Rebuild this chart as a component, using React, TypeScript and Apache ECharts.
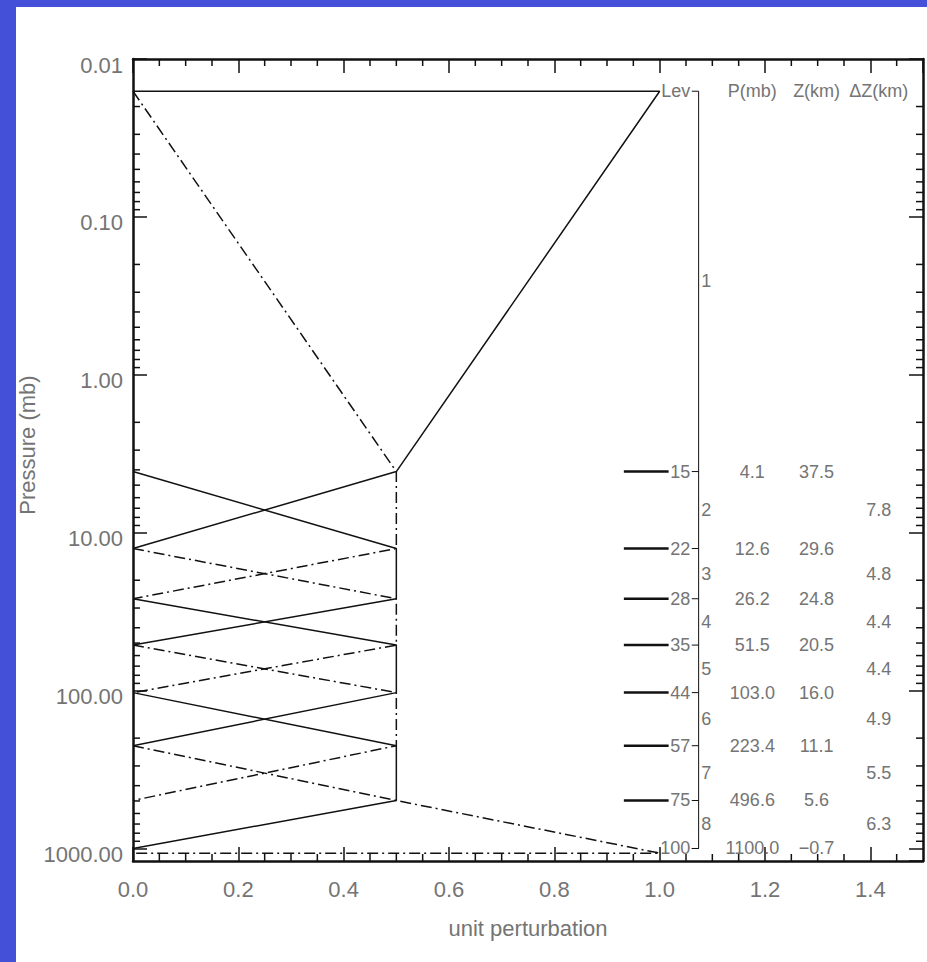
import React, { useEffect, useRef } from 'react';
import * as echarts from 'echarts';

// ---------- data ----------
const topLevelP = 0.016;
const levelNumbers = ['15', '22', '28', '35', '44', '57', '75', '100'];
const levelPlotP = [4.1, 12.6, 26.2, 51.5, 103.0, 223.4, 496.6, 1000];
const levelPText = ['4.1', '12.6', '26.2', '51.5', '103.0', '223.4', '496.6', '1100.0'];
const levelZText = ['37.5', '29.6', '24.8', '20.5', '16.0', '11.1', '5.6', '\u22120.7'];
const layerNames = ['1', '2', '3', '4', '5', '6', '7', '8'];
const layerDZText = ['', '7.8', '4.8', '4.4', '4.4', '4.9', '5.5', '6.3'];
const headerTexts = ['P(mb)', 'Z(km)', '\u0394Z(km)'];

// perturbation functions: vertices (unit perturbation, pressure)
const pertX = [
  [0, 1, 0.5, 0],
  [0, 0.5, 0.5, 0],
  [0, 0.5, 0.5, 0],
  [0, 0.5, 0.5, 0],
  [0, 0.5, 0.5, 0],
  [0, 0.5, 0.5, 0],
  [0, 0.5, 0.5, 0],
  [0, 0.5, 1, 0],
];
const pertP = [
  [0.016, 0.016, 4.1, 12.6],
  [0.016, 4.1, 12.6, 26.2],
  [4.1, 12.6, 26.2, 51.5],
  [12.6, 26.2, 51.5, 103.0],
  [26.2, 51.5, 103.0, 223.4],
  [51.5, 103.0, 223.4, 496.6],
  [103.0, 223.4, 496.6, 1000],
  [223.4, 496.6, 1070, 1070],
];

const yMinorTicks = [
  0.02, 0.03, 0.04, 0.05, 0.06, 0.07, 0.08, 0.09,
  0.2, 0.3, 0.4, 0.5, 0.6, 0.7, 0.8, 0.9,
  2, 3, 4, 5, 6, 7, 8, 9,
  20, 30, 40, 50, 60, 70, 80, 90,
  200, 300, 400, 500, 600, 700, 800, 900,
];
const xMinorTicks = [
  0.05, 0.1, 0.15, 0.25, 0.3, 0.35, 0.45, 0.5, 0.55, 0.65, 0.7, 0.75,
  0.85, 0.9, 0.95, 1.05, 1.1, 1.15, 1.25, 1.3, 1.35, 1.45,
];

// ---------- styles ----------
const FONT = '"Liberation Sans", Arial, sans-serif';
const TEXT = '#747474';
const INK = '#111111';
const DASHDOT = [11, 4, 2, 4];

export default function App() {
  const ref = useRef<HTMLDivElement>(null);

  useEffect(() => {
    if (!ref.current) return;
    const chart = echarts.init(ref.current, null, { renderer: 'svg' });

    const boundaries = [topLevelP, ...levelPlotP];
    const layerMid = layerNames.map((_, i) => Math.sqrt(boundaries[i] * boundaries[i + 1]));

    const lineSeries = pertX.map((xs, k) => ({
      type: 'line',
      data: xs.map((x, j) => [x, pertP[k][j]]),
      symbol: 'none',
      silent: true,
      z: 3,
      lineStyle: { color: INK, width: 1.5, type: k % 2 === 0 ? 'solid' : DASHDOT },
    }));

    const txt = (text: string, x: number, y: number, align: string, size = 18) => ({
      type: 'text',
      x,
      y,
      style: { text, fill: TEXT, font: `${size}px ${FONT}`, align, verticalAlign: 'middle' },
    });
    const seg = (x1: number, y1: number, x2: number, y2: number, w: number, c = INK) => ({
      type: 'line',
      shape: { x1, y1, x2, y2 },
      style: { stroke: c, lineWidth: w },
    });

    const axisCommon = {
      axisLine: { onZero: false, lineStyle: { color: INK, width: 2.5 } },
      axisTick: { inside: true, length: 14, lineStyle: { color: INK, width: 1.5 } },
      splitLine: { show: false },
    };

    const option: any = {
      animation: false,
      backgroundColor: '#ffffff',
      grid: { left: 133, top: 59, right: 4, bottom: 101, containLabel: false },
      xAxis: [
        {
          type: 'value', min: 0, max: 1.5, interval: 0.2, position: 'bottom',
          ...axisCommon,
          axisLabel: {
            color: TEXT, fontSize: 22, fontFamily: FONT, margin: 17, showMaxLabel: false,
            formatter: (v: number) => v.toFixed(1),
          },
        },
        {
          type: 'value', min: 0, max: 1.5, interval: 0.2, position: 'top',
          ...axisCommon,
          axisLabel: { show: false },
        },
      ],
      yAxis: [
        {
          type: 'log', logBase: 10, min: 0.01, max: 1200, inverse: true, position: 'left',
          ...axisCommon,
          axisLabel: {
            color: TEXT, fontSize: 22, fontFamily: FONT, margin: 10, showMaxLabel: false,
            verticalAlign: 'top', lineHeight: 12,
            formatter: (v: number) => v.toFixed(2),
          },
        },
        {
          type: 'log', logBase: 10, min: 0.01, max: 1200, inverse: true, position: 'right',
          ...axisCommon,
          axisLabel: { show: false },
        },
      ],
      graphic: [
        { type: 'rect', left: 0, top: 0, shape: { width: 16, height: 962 }, style: { fill: '#4450D8' }, z: 100 },
        { type: 'rect', left: 0, top: 0, shape: { width: 927, height: 7 }, style: { fill: '#4450D8' }, z: 100 },
        {
          type: 'text', x: 528, y: 928,
          style: { text: 'unit perturbation', fill: TEXT, font: `22px ${FONT}`, align: 'center', verticalAlign: 'middle' },
        },
        {
          type: 'text', x: 27, y: 445, rotation: Math.PI / 2,
          style: { text: 'Pressure (mb)', fill: TEXT, font: `22px ${FONT}`, align: 'center', verticalAlign: 'middle' },
        },
      ],
      series: [
        ...lineSeries,
        // minor ticks, y
        {
          type: 'custom', silent: true, clip: false, z: 4,
          data: yMinorTicks.map((p) => [0, p]),
          encode: { x: 0, y: 1 },
          renderItem: (params: any, api: any) => {
            const cs = params.coordSys;
            const y = api.coord([0, api.value(1)])[1];
            return {
              type: 'group',
              children: [
                seg(cs.x, y, cs.x + 7, y, 1.5),
                seg(cs.x + cs.width - 7, y, cs.x + cs.width, y, 1.5),
              ],
            };
          },
        },
        // minor ticks, x
        {
          type: 'custom', silent: true, clip: false, z: 4,
          data: xMinorTicks.map((v) => [v, 1]),
          encode: { x: 0, y: 1 },
          renderItem: (params: any, api: any) => {
            const cs = params.coordSys;
            const x = api.coord([api.value(0), 1])[0];
            return {
              type: 'group',
              children: [
                seg(x, cs.y + cs.height - 7, x, cs.y + cs.height, 1.5),
                seg(x, cs.y, x, cs.y + 7, 1.5),
              ],
            };
          },
        },
        // header row + level axis line
        {
          type: 'custom', silent: true, clip: false, z: 5,
          data: [[0, topLevelP, levelPlotP[levelPlotP.length - 1]]],
          encode: { x: 0, y: 1 },
          renderItem: (params: any, api: any) => {
            const p = api.value(1);
            const pEnd = api.value(2);
            const at = (x: number, pp: number) => api.coord([x, pp]);
            const [xa, y0] = at(1.074, p);
            const y1 = at(1.074, pEnd)[1];
            const xh = at(1.061, p)[0];
            return {
              type: 'group',
              children: [
                txt('Lev', at(1.058, p)[0], y0, 'right'),
                seg(xh, y0, xa, y0, 1),
                seg(xa, y0, xa, y1, 1),
                seg(xh, y1, xa, y1, 1),
                txt(headerTexts[0], at(1.176, p)[0], y0, 'center'),
                txt(headerTexts[1], at(1.298, p)[0], y0, 'center'),
                txt(headerTexts[2], at(1.416, p)[0], y0, 'center'),
              ],
            };
          },
        },
        // level rows
        {
          type: 'custom', silent: true, clip: false, z: 5,
          data: levelPlotP.map((p, i) => [0, p, i]),
          encode: { x: 0, y: 1 },
          renderItem: (params: any, api: any) => {
            const p = api.value(1);
            const i = api.value(2);
            const xAt = (v: number) => api.coord([v, p])[0];
            const y = api.coord([0, p])[1];
            const children: any[] = [
              txt(levelNumbers[i], xAt(1.058), y, 'right'),
              seg(xAt(1.061), y, xAt(1.074), y, 1),
              txt(levelPText[i], xAt(1.176), y, 'center'),
              txt(levelZText[i], xAt(1.298), y, 'center'),
            ];
            if (i < levelPlotP.length - 1) {
              children.unshift(seg(xAt(0.932), y, xAt(1.017), y, 2.5));
            }
            return { type: 'group', children };
          },
        },
        // layer rows
        {
          type: 'custom', silent: true, clip: false, z: 5,
          data: layerMid.map((p, i) => [0, p, i]),
          encode: { x: 0, y: 1 },
          renderItem: (params: any, api: any) => {
            const p = api.value(1);
            const i = api.value(2);
            const xAt = (v: number) => api.coord([v, p])[0];
            const y = api.coord([0, p])[1];
            return {
              type: 'group',
              children: [
                txt(layerNames[i], xAt(1.079), y, 'left'),
                txt(layerDZText[i], xAt(1.416), y, 'center'),
              ],
            };
          },
        },
      ],
    };

    chart.setOption(option);
    return () => chart.dispose();
  }, []);

  return (
    <div
      ref={ref}
      style={{ position: 'fixed', left: 0, top: 0, width: 927, height: 962, background: '#fff' }}
    />
  );
}
